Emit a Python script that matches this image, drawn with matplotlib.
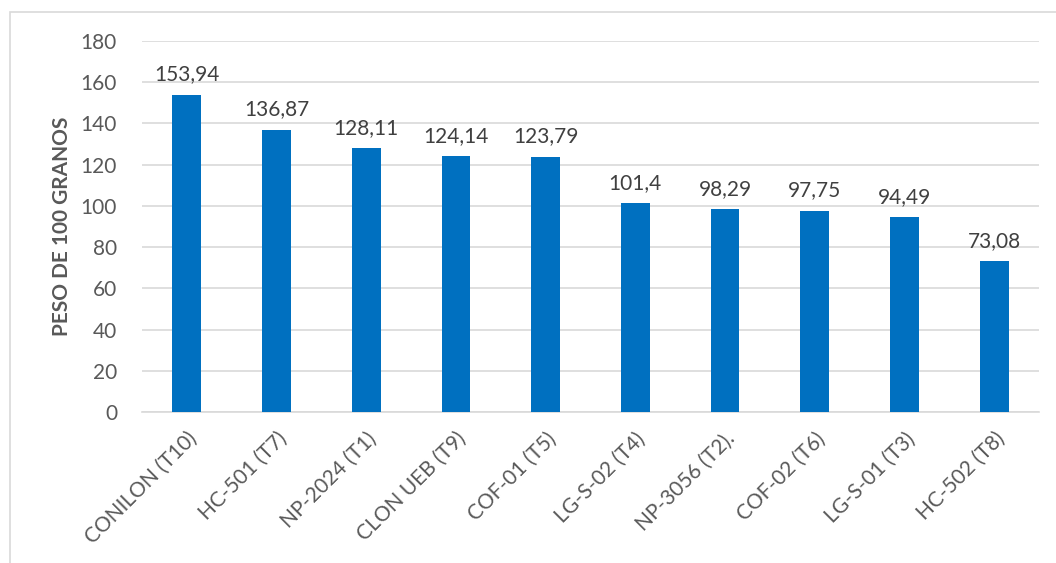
import matplotlib.pyplot as plt
from matplotlib.patches import Rectangle

categorias = ['CONILON (T10)', 'HC-501 (T7)', 'NP-2024 (T1)', 'CLON UEB (T9)', 'COF-01 (T5)',
              'LG-S-02 (T4)', 'NP-3056 (T2).', 'COF-02 (T6)', 'LG-S-01 (T3)', 'HC-502 (T8)']
peso = [153.94, 136.87, 128.11, 124.14, 123.79, 101.4, 98.29, 97.75, 94.49, 73.08]
etiquetas = ['153,94', '136,87', '128,11', '124,14', '123,79', '101,4', '98,29', '97,75', '94,49', '73,08']
yticks = [0, 20, 40, 60, 80, 100, 120, 140, 160, 180]

plt.rcParams['font.family'] = ['Lato', 'DejaVu Sans']
gris = '#595959'

fig = plt.figure(figsize=(10.56, 5.63), dpi=100)
# chart border
fig.patches.append(Rectangle((10/1056, -0.1), 1.2, 1.1 - 12/563, transform=fig.transFigure,
                             fill=False, edgecolor='#D9D9D9', lw=1.2))
ax = fig.add_axes([142/1056, 1 - 412/563, (1039 - 142)/1056, (412 - 41)/563])

x = range(len(categorias))
bars = ax.bar(x, peso, width=0.32, color='#0070C0', zorder=3)
for xi, v, t in zip(x, peso, etiquetas):
    ax.text(xi, v + 5, t, ha='center', va='bottom', fontsize=15, color='#404040')

ax.set_ylim(0, 180)
ax.set_xlim(-0.5, len(categorias) - 0.5)
ax.set_yticks(yticks)
ax.yaxis.grid(True, color='#D9D9D9', lw=1.2, zorder=0)
ax.tick_params(axis='both', length=0, labelsize=15, colors=gris)
ax.tick_params(axis='y', pad=18)
ax.tick_params(axis='x', pad=12)
ax.set_xticks(list(x))
ax.set_xticklabels(categorias, rotation=45, ha='right', rotation_mode='anchor')
for s in ['top', 'right', 'left']:
    ax.spines[s].set_visible(False)
ax.spines['bottom'].set_color('#D9D9D9')
ax.spines['bottom'].set_linewidth(1.2)

ax.set_ylabel('PESO DE 100 GRANOS', fontsize=15, fontweight='bold', color=gris, labelpad=6)

fig.savefig('out.png', dpi=100)
